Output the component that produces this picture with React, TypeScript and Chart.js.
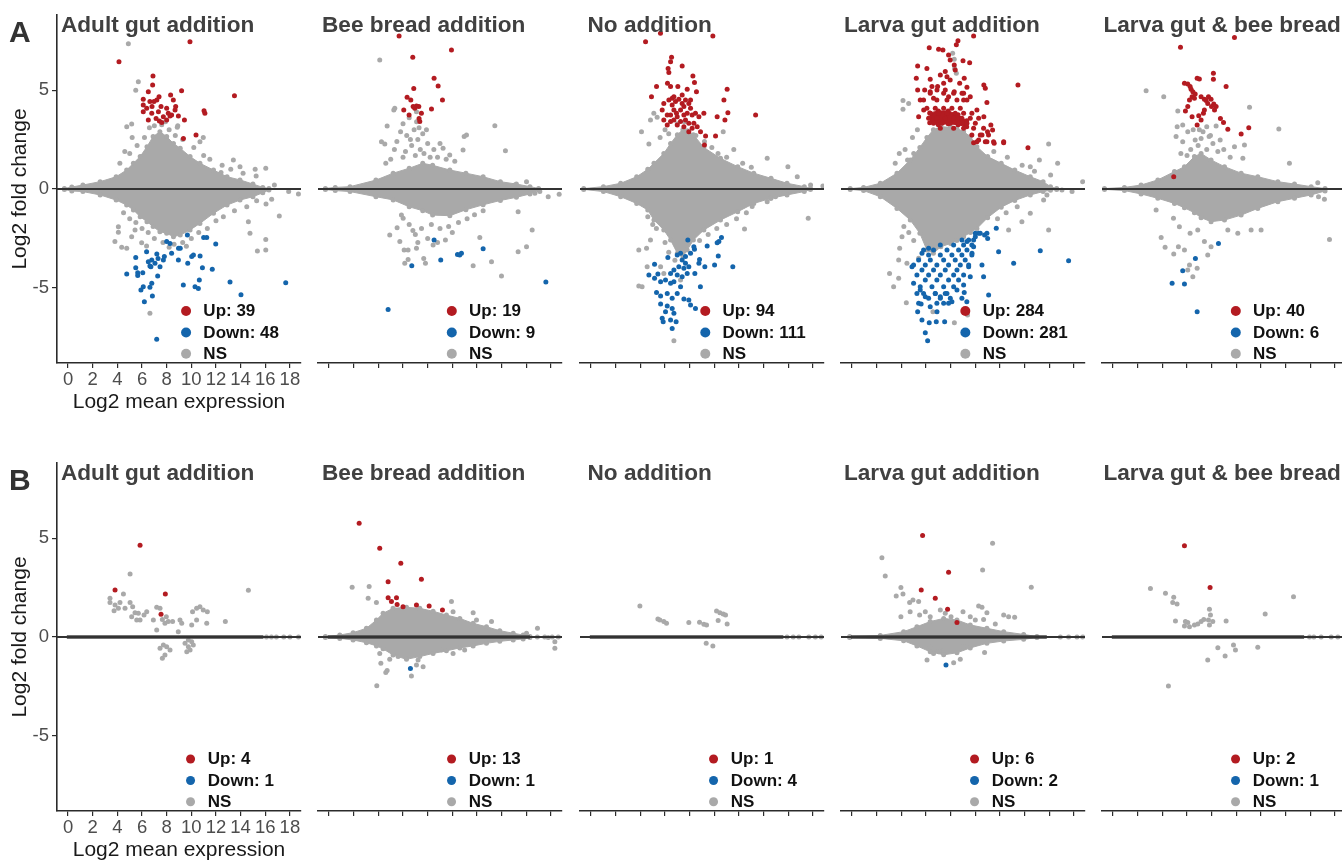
import React, { useEffect, useRef } from 'react';
import { Chart, registerables } from 'chart.js';

Chart.register(...registerables);

type P = [number, number];

// ---------- shared labels / ticks ----------
const X_TICKS = [0, 2, 4, 6, 8, 10, 12, 14, 16, 18];
const Y_TICKS = [-5, 0, 5];
const X_MIN = -0.9;
const X_MAX = 18.9;
const Y_MIN = -8.8;
const Y_MAX = 8.8;
const ROW_LABELS = ['A', 'B'];
const PANEL_TITLES = ['Adult gut addition', 'Bee bread addition', 'No addition', 'Larva gut addition', 'Larva gut & bee bread'];
const UP_COUNTS_A = [39, 19, 94, 284, 40];
const DOWN_COUNTS_A = [48, 9, 111, 281, 6];
const UP_COUNTS_B = [4, 13, 1, 6, 2];
const DOWN_COUNTS_B = [1, 1, 4, 2, 1];
const Y_TITLE = 'Log2 fold change';
const X_TITLE = 'Log2 mean expression';

// ---------- Row A, panel 1: Adult gut addition ----------
const a1Up: P[] = [[4.13,6.44],[9.89,7.45],[6.89,5.72],[6.86,5.26],[6.51,4.92],[7.38,4.67],[7.2,4.5],[8.32,4.76],[9.21,4.97],[6.1,4.54],[6.64,4.42],[6.97,4.42],[6.1,4.25],[7.54,4.17],[8.0,4.08],[8.73,4.17],[6.1,3.91],[6.51,3.49],[7.41,3.44],[7.6,3.36],[8.0,3.49],[8.27,3.69],[8.4,3.74],[8.95,3.69],[9.44,3.49],[11.1,3.83],[11.03,3.96],[10.38,2.73],[9.36,2.56],[13.5,4.72],[6.81,4.17],[7.33,3.91],[8.54,4.5],[8.13,3.83],[7.73,3.66],[6.79,3.83],[7.14,3.57],[8.68,4.0],[6.38,4.08]];
const a1Down: P[] = [[4.76,-4.3],[5.49,-3.98],[5.65,-4.23],[5.65,-4.37],[6.06,-4.23],[5.49,-3.46],[6.1,-4.94],[5.91,-5.11],[6.19,-5.7],[6.51,-3.68],[6.64,-3.9],[6.79,-3.59],[6.72,-3.93],[7.2,-3.29],[7.3,-3.51],[7.05,-3.76],[7.73,-3.59],[7.81,-3.42],[7.27,-4.4],[6.79,-4.77],[6.64,-4.97],[6.84,-5.41],[8.0,-2.66],[8.27,-2.75],[8.96,-3.0],[9.1,-3.0],[9.68,-2.33],[8.95,-3.59],[9.71,-3.76],[10.03,-3.42],[10.17,-3.34],[10.71,-3.39],[10.9,-3.98],[11.0,-2.45],[11.25,-2.45],[11.7,-4.06],[11.98,-2.78],[10.65,-4.6],[10.57,-5.03],[9.35,-4.86],[13.14,-4.7],[14.03,-5.35],[17.66,-4.74],[7.19,-7.6],[10.3,-4.94],[8.4,-3.25],[6.37,-3.17],[7.46,-3.93]];
const a1Ns: P[] = [[4.89,7.34],[5.7,5.43],[5.49,5.0],[4.76,3.15],[5.16,3.29],[8.86,3.12],[10.7,2.39],[10.97,2.61],[15.18,1.0],[16.04,1.05],[15.26,0.66],[16.74,0.2],[17.9,-0.13],[18.69,-0.25],[16.52,-0.52],[16.06,-0.76],[17.14,-1.37],[16.04,-2.55],[16.04,-3.09],[15.36,-3.14],[14.63,-1.65],[14.76,-2.24],[4.08,-1.91],[4.08,-2.19],[4.35,-2.95],[4.76,-3.0],[5.16,-2.41],[5.43,-2.07],[5.97,-2.72],[6.37,-2.88],[6.64,-6.29],[3.8,-2.66],[13.41,1.47],[13.95,1.13],[12.41,0.83],[6.6,3.1],[7.0,3.2],[7.6,3.25],[8.2,3.0],[8.7,2.7],[9.3,2.5],[6.2,2.6],[5.6,2.2],[5.0,1.8],[10.2,2.1],[11.0,1.7],[11.5,1.5],[12.5,1.2],[13.2,1.0],[14.2,0.8],[8.9,3.2],[7.9,3.4],[5.2,2.6],[4.6,1.9],[4.2,1.3],[7.0,-2.5],[7.7,-2.7],[8.6,-2.8],[9.3,-2.7],[10.0,-2.5],[10.6,-2.2],[11.3,-2.0],[12.0,-1.6],[12.6,-1.4],[13.5,-1.1],[6.5,-2.2],[6.0,-2.0],[5.5,-1.7],[5.0,-1.5],[4.5,-1.2],[9.6,-2.9],[8.2,-2.95],[14.5,-0.9],[15.3,-0.6]];
const a1CloudX = [-0.3, 0.3, 1.2, 2.6, 3.9, 4.75, 5.3, 5.85, 6.4, 6.9, 7.45, 8.0, 8.55, 9.1, 9.9, 10.7, 11.8, 12.9, 13.95, 15.0, 15.8, 16.3];
const a1CloudHi = [0.03, 0.1, 0.2, 0.37, 0.62, 0.96, 1.3, 1.64, 2.14, 2.65, 2.9, 2.65, 2.3, 2.06, 1.64, 1.3, 0.96, 0.62, 0.46, 0.25, 0.08, 0.02];
const a1CloudLo = [-0.03, -0.1, -0.13, -0.3, -0.56, -0.81, -1.06, -1.4, -1.65, -1.9, -2.16, -2.24, -2.41, -2.33, -2.07, -1.74, -1.23, -0.81, -0.56, -0.39, -0.19, -0.05];

// ---------- Row A, panel 2: Bee bread addition ----------
const a2Up: P[] = [[5.68,7.74],[9.93,7.03],[6.79,6.66],[8.52,5.6],[8.85,5.21],[6.87,5.08],[6.33,4.64],[6.63,4.5],[9.2,4.5],[7.09,4.2],[7.28,4.17],[6.95,4.08],[6.06,4.0],[8.31,4.05],[6.49,3.74],[7.49,3.83],[7.36,3.41],[7.3,3.57],[6.82,4.17]];
const a2Down: P[] = [[4.79,-6.09],[6.71,-3.88],[9.06,-3.59],[10.42,-3.31],[10.74,-3.25],[12.5,-3.02],[17.59,-4.7],[8.52,-2.58],[10.6,-3.34]];
const a2Ns: P[] = [[4.11,6.53],[13.45,3.2],[14.31,1.94],[10.96,2.65],[11.15,2.73],[4.71,3.19],[4.25,2.39],[4.52,2.28],[9.25,2.06],[9.79,1.72],[10.87,1.97],[5.25,4.0],[5.33,4.08],[7.09,3.91],[16.02,0.37],[15.07,0.2],[16.7,-0.22],[17.78,-0.39],[18.67,-0.27],[17.1,-0.13],[15.34,-1.15],[16.48,-2.07],[16.02,-2.92],[15.34,-3.17],[13.99,-4.4],[13.18,-3.68],[11.69,-3.88],[12.23,-2.45],[9.44,-2.58],[8.44,-2.83],[7.68,-3.51],[7.82,-3.76],[7.09,-3.0],[6.09,-3.09],[6.41,-3.09],[6.14,-3.76],[6.41,-3.56],[5.74,-2.66],[4.92,-2.33],[5.52,-1.96],[6.01,-1.48],[5.87,-1.32],[5.5,2.4],[5.8,2.9],[6.0,3.3],[6.3,2.7],[6.5,3.6],[6.7,2.2],[6.9,3.0],[7.1,3.4],[7.2,2.5],[7.4,2.0],[7.6,2.8],[7.7,1.8],[8.0,2.3],[8.2,1.6],[8.5,2.0],[8.8,1.6],[9.0,2.3],[6.2,1.9],[5.0,1.5],[5.3,2.0],[6.0,1.6],[7.0,1.7],[9.5,1.5],[10.2,1.4],[4.6,1.3],[7.9,3.0],[6.6,2.5],[7.3,3.1],[6.5,-1.8],[7.0,-2.3],[7.5,-2.0],[8.0,-2.5],[8.3,-1.8],[9.0,-2.0],[9.7,-1.9],[10.5,-1.7],[11.2,-1.5],[8.8,-2.7],[7.2,-2.7],[6.8,-2.1],[10.0,-2.2],[11.8,-1.3],[12.5,-1.1]];
const a2CloudX = [-0.3, 0.5, 1.7, 3.8, 5.2, 6.5, 7.6, 8.4, 9.8, 11.1, 12.5, 13.9, 15.2, 16.3, 17.0];
const a2CloudHi = [0.03, 0.08, 0.12, 0.45, 0.8, 1.05, 1.3, 1.2, 0.96, 0.8, 0.62, 0.37, 0.25, 0.12, 0.03];
const a2CloudLo = [-0.03, -0.08, -0.13, -0.39, -0.55, -0.9, -1.1, -1.32, -1.35, -1.05, -0.8, -0.58, -0.42, -0.25, -0.05];

// ---------- Row A, panel 3: No addition ----------
const a3Up: P[] = [[4.42,7.45],[5.63,7.88],[9.88,7.74],[6.53,6.66],[6.45,6.44],[7.39,6.22],[6.25,6.1],[6.31,5.89],[8.26,5.72],[5.31,5.18],[6.2,5.35],[6.45,5.18],[7.04,5.18],[7.8,5.04],[8.39,5.38],[8.55,4.92],[11.04,5.04],[4.9,4.67],[10.78,4.5],[13.35,3.74],[11.1,3.86],[10.23,3.66],[9.15,3.83],[8.75,3.66],[10.86,3.49],[5.9,4.33],[6.31,4.5],[6.58,4.59],[6.85,4.42],[7.12,4.54],[7.39,4.33],[7.66,4.5],[7.93,4.33],[8.07,4.08],[7.53,4.17],[7.26,4.0],[6.72,4.0],[6.45,3.74],[6.99,3.66],[7.53,3.74],[7.8,3.83],[8.2,3.74],[8.47,3.83],[6.18,3.74],[5.9,3.49],[6.45,3.41],[6.72,3.49],[7.26,3.41],[7.66,3.49],[7.93,3.32],[8.34,3.32],[8.61,3.15],[6.18,3.24],[6.99,3.24],[7.53,3.15],[8.2,3.07],[9.29,2.68],[10.1,2.68],[9.2,2.23],[8.88,2.9],[7.93,2.9],[6.72,4.67],[7.39,4.76],[6.58,4.25],[5.77,4.0],[6.93,3.83],[8.07,4.5]];
const a3Down: P[] = [[10.58,-2.45],[10.37,-2.66],[10.23,-2.72],[9.42,-2.88],[7.85,-2.58],[8.39,-3.05],[10.32,-3.39],[10.02,-3.84],[11.5,-3.93],[8.8,-3.56],[8.75,-3.76],[9.23,-3.93],[8.87,-4.94],[6.23,-3.47],[6.99,-3.34],[7.39,-3.59],[7.66,-3.76],[7.93,-3.93],[7.53,-4.01],[7.12,-3.93],[6.72,-4.1],[6.45,-4.27],[6.99,-4.35],[7.39,-4.44],[7.8,-4.27],[8.42,-4.27],[5.15,-3.81],[4.69,-4.35],[5.15,-4.52],[5.42,-4.3],[5.64,-4.69],[6.04,-4.6],[6.45,-4.77],[6.72,-4.69],[7.26,-4.94],[5.31,-5.24],[5.64,-5.41],[6.18,-5.28],[6.58,-5.53],[6.99,-5.28],[7.53,-5.56],[7.93,-5.62],[8.07,-5.87],[8.47,-6.04],[5.64,-5.82],[6.18,-5.92],[6.58,-6.04],[6.04,-6.21],[6.72,-6.29],[5.77,-6.54],[5.85,-6.71],[6.45,-6.63],[6.9,-6.71],[6.58,-7.05],[7.66,-3.42],[8.07,-3.25],[8.34,-2.92],[7.26,-3.25]];
const a3Ns: P[] = [[4.09,2.9],[4.69,2.28],[5.36,3.63],[5.09,3.83],[4.82,3.49],[10.72,2.9],[11.58,2.0],[14.29,1.55],[15.97,1.13],[16.73,0.62],[17.81,0.2],[18.81,0.15],[15.37,0.12],[15.64,-0.22],[14.29,-0.64],[14.56,-0.47],[14.96,-0.39],[17.62,-1.48],[13.07,-0.89],[12.45,-2.02],[3.87,-3.09],[3.87,-4.91],[4.14,-4.94],[4.55,-3.93],[4.5,-3.0],[4.82,-2.58],[6.72,-7.67],[5.64,-3.93],[5.9,-4.27],[7.26,-4.6],[5.6,2.6],[6.0,3.0],[6.3,2.8],[7.0,3.3],[7.6,3.4],[8.5,2.7],[9.2,2.4],[9.8,2.1],[10.3,1.8],[11.0,1.6],[12.3,1.3],[13.0,1.1],[8.8,-2.6],[9.5,-2.3],[10.2,-2.0],[11.0,-1.8],[11.8,-1.5],[12.6,-1.2],[5.3,-2.0],[5.0,-1.8],[4.6,-1.4],[6.0,-2.7],[6.3,-3.2],[6.8,-3.6]];
const a3CloudX = [-0.6, 1.0, 2.4, 3.7, 4.6, 5.1, 5.9, 6.45, 7.0, 7.45, 7.8, 8.3, 9.15, 10.5, 11.9, 13.2, 14.6, 15.9, 17.3, 17.8];
const a3CloudHi = [0.02, 0.12, 0.29, 0.62, 1.0, 1.3, 1.8, 2.3, 2.75, 3.0, 2.95, 2.75, 2.1, 1.55, 1.13, 0.8, 0.54, 0.29, 0.12, 0.02];
const a3CloudLo = [-0.02, -0.13, -0.39, -0.73, -1.06, -1.57, -2.07, -2.58, -3.25, -3.42, -3.09, -2.58, -2.07, -1.57, -1.15, -0.73, -0.47, -0.3, -0.13, -0.02];

// ---------- Row A, panel 4: Larva gut addition ----------
const a4Up: P[] = [[9.86,7.74],[8.59,7.5],[8.46,7.29],[6.26,7.15],[7.02,7.07],[7.37,7.03],[7.83,6.78],[7.96,6.53],[9.0,6.49],[9.54,6.39],[5.32,6.22],[6.07,6.1],[8.29,6.27],[7.56,5.94],[7.16,5.77],[7.7,5.68],[7.96,5.51],[9.1,5.6],[5.21,5.6],[6.34,5.55],[10.69,5.26],[10.81,5.09],[13.46,5.26],[9.32,5.14],[5.89,5.01],[5.32,5.01],[6.34,4.92],[6.89,5.01],[7.56,5.01],[8.29,4.92],[8.92,4.84],[9.59,4.67],[10.94,4.37],[5.53,4.5],[6.61,4.59],[7.83,4.67],[5.4,3.66],[5.81,4.0],[10.69,3.66],[11.26,3.24],[11.4,2.98],[10.99,2.9],[11.53,2.31],[12.3,2.34],[14.27,2.09],[10.27,2.48],[9.86,2.34],[10.54,2.73],[10.81,2.39],[8.37,6.02],[8.73,5.35],[6.94,5.18],[7.43,5.35],[6.48,5.18],[9.05,4.5],[10.13,4.0],
  [6.07,4.08],[6.75,4.08],[7.43,4.08],[8.1,4.08],[8.78,4.08],[6.34,3.83],[7.02,3.83],[7.7,3.83],[8.37,3.83],[9.05,3.83],[9.72,3.83],[6.21,3.58],[6.88,3.58],[7.56,3.58],[8.24,3.58],[8.91,3.58],[9.59,3.58],[10.27,3.58],[6.61,3.32],[7.29,3.32],[7.97,3.32],[8.64,3.32],[9.32,3.32],[10.0,3.32],[7.16,3.07],[8.24,3.07],[9.05,3.07],[9.86,3.07],[10.67,3.07],[9.72,2.73],[10.4,2.73],[11.07,2.73],[10.13,2.39],[10.94,2.39],[11.48,2.39],[12.3,2.39],[5.8,4.5],[6.88,4.5],[7.7,4.5],[8.51,4.5],[9.32,4.5],[6.34,4.84],[7.43,4.84],[8.24,4.84],[9.05,4.84]];
const a4UpCoreX = [6.3, 7.0, 7.8, 8.6, 9.3];
const a4UpCoreHi = [3.85, 3.95, 3.95, 3.75, 3.45];
const a4UpCoreLo = [3.35, 3.25, 3.3, 3.25, 3.15];
const a4Down: P[] = [[11.7,-1.99],[10.75,-2.33],[11.0,-2.5],[10.27,-2.24],[10.0,-2.41],[11.89,-3.17],[13.11,-3.76],[15.27,-3.12],[17.57,-3.63],[10.54,-3.84],[10.67,-4.44],[11.08,-5.36],[9.1,-5.24],[8.91,-5.53],[9.31,-5.7],[8.1,-5.7],[7.43,-5.78],[6.89,-6.21],[6.34,-5.95],[5.6,-5.82],[5.32,-6.21],[5.67,-6.63],[6.26,-6.76],[6.83,-6.71],[7.51,-6.71],[5.94,-7.27],[6.13,-7.67],[4.86,-3.93],[4.99,-4.77],[5.26,-5.28],[5.53,-5.11],[5.94,-5.45],[6.75,-5.28],[7.16,-5.45],[7.7,-5.28],[8.51,-5.11],[9.05,-4.86],[9.59,-4.44],[9.46,-3.93],[9.73,-3.25],[9.86,-2.92],[9.32,-2.66],[6.21,-3.0],[5.67,-3.25],
  [10.0,-2.24],[10.4,-2.24],[10.94,-2.24],[8.91,-2.58],[9.46,-2.58],[9.86,-2.58],[7.16,-2.83],[8.24,-2.83],[9.05,-2.83],[9.72,-2.83],[5.8,-3.09],[6.61,-3.09],[7.7,-3.09],[8.64,-3.09],[9.32,-3.09],[6.21,-3.34],[7.16,-3.34],[8.1,-3.34],[8.91,-3.34],[9.72,-3.34],[5.4,-3.59],[6.35,-3.59],[7.43,-3.59],[8.37,-3.59],[9.18,-3.59],[4.99,-3.84],[5.94,-3.84],[6.88,-3.84],[7.83,-3.84],[8.78,-3.84],[9.46,-3.84],[5.67,-4.1],[6.61,-4.1],[7.56,-4.1],[8.51,-4.1],[5.26,-4.35],[6.21,-4.35],[7.16,-4.35],[8.24,-4.35],[9.05,-4.35],[5.94,-4.6],[6.88,-4.6],[7.83,-4.6],[8.64,-4.6],[5.53,-4.94],[6.48,-4.94],[7.43,-4.94],[8.24,-4.94],[5.8,-5.28],[6.75,-5.28],[7.56,-5.28],[6.21,-5.53],[7.16,-5.53],[7.97,-5.53],[5.4,-5.78],[6.88,-5.78],[7.83,-5.78]];
const a4Ns: P[] = [[8.16,6.86],[8.29,6.56],[8.32,6.1],[8.46,5.85],[4.13,4.47],[4.13,4.03],[4.59,4.33],[3.83,1.8],[5.0,1.8],[4.5,1.47],[15.95,2.28],[16.68,1.3],[15.2,1.47],[14.46,1.13],[16.11,0.71],[15.22,-0.05],[15.81,-0.3],[15.54,-0.56],[17.03,-0.05],[17.85,-0.13],[18.71,0.37],[14.46,-1.23],[13.78,-1.65],[15.95,-2.07],[12.7,-2.07],[4.05,-2.41],[3.86,-3.0],[3.78,-3.59],[3.04,-4.27],[3.37,-4.94],[3.78,-4.52],[4.4,-5.75],[6.56,-6.21],[8.3,-6.76],[9.37,-6.37],[4.45,-3.76],[4.3,2.0],[4.9,2.6],[5.3,3.0],[3.5,1.3],[5.0,-2.6],[4.6,-2.2],[5.4,-3.5],[4.2,-1.9],[11.8,-1.5],[12.5,-1.2],[13.4,-0.9],[11.5,1.9],[12.6,1.6],[13.8,1.2],[14.8,0.9]];
const a4CloudX = [-0.15, 0.93, 2.29, 3.64, 4.72, 5.5, 6.07, 6.6, 7.2, 8.0, 8.5, 9.05, 9.6, 10.13, 11.0, 12.1, 13.2, 14.46, 15.5, 16.1, 16.6];
const a4CloudHi = [0.02, 0.08, 0.29, 0.8, 1.47, 2.1, 2.6, 3.0, 3.15, 3.12, 3.07, 2.9, 2.65, 2.14, 1.64, 1.3, 0.96, 0.62, 0.37, 0.12, 0.02];
const a4CloudLo = [-0.02, -0.08, -0.39, -0.98, -1.57, -2.24, -3.09, -3.25, -2.92, -2.75, -2.6, -2.41, -2.2, -2.0, -1.45, -0.92, -0.58, -0.3, -0.13, -0.06, -0.02];

// ---------- Row A, panel 5: Larva gut & bee bread ----------
const a5Up: P[] = [[5.47,7.17],[9.85,7.66],[5.79,5.35],[6.06,5.31],[6.25,5.18],[6.33,5.04],[6.82,5.6],[7.0,5.56],[8.14,5.85],[8.14,5.55],[9.17,5.18],[6.41,4.67],[6.6,4.59],[7.41,4.54],[7.55,4.47],[7.95,4.54],[8.17,4.3],[7.99,4.17],[8.36,4.17],[5.87,3.95],[6.95,3.71],[7.33,3.83],[6.82,3.24],[8.96,3.36],[9.31,3.02],[10.39,2.78],[11.01,3.1],[4.92,0.62],[6.47,4.92],[7.14,4.67],[7.68,4.33],[6.2,4.5],[6.66,4.81],[7.74,4.67],[6.06,4.17],[8.23,4.0],[7.14,3.49],[7.41,4.0],[6.41,3.66],[8.71,3.57]];
const a5Down: P[] = [[8.55,-2.75],[6.68,-3.51],[5.65,-4.13],[4.79,-4.77],[5.79,-4.81],[6.82,-6.21]];
const a5Ns: P[] = [[2.68,4.97],[4.11,4.67],[11.07,4.13],[13.45,3.04],[14.31,1.3],[5.25,3.95],[5.2,3.15],[5.65,3.24],[5.11,2.65],[5.65,2.39],[6.06,2.9],[6.66,2.48],[7.6,3.15],[7.79,2.65],[7.14,2.56],[8.36,3.19],[8.69,2.48],[8.98,2.0],[9.85,2.14],[10.66,2.23],[10.53,1.55],[16.61,0.32],[16.67,-0.39],[17.15,-0.52],[17.56,-2.55],[15.53,0.03],[3.49,-1.06],[3.9,-2.45],[4.22,-2.95],[4.92,-3.29],[5.3,-2.92],[5.79,-3.09],[6.2,-3.84],[6.06,-4.1],[6.82,-4.01],[6.47,-4.44],[7.41,-2.66],[7.68,-3.34],[7.95,-2.92],[6.25,-2.24],[6.87,-2.07],[5.38,-1.91],[11.2,-2.07],[12.01,-2.07],[10.12,-2.24],[9.31,-2.07],[4.9,-1.48],[6.3,2.0],[6.9,2.2],[7.3,2.9],[7.6,2.0],[8.1,2.3],[8.5,1.9],[6.0,1.7],[5.5,1.8],[7.0,3.0],[7.9,2.7],[9.5,1.6],[6.5,3.0]];
const a5CloudX = [-0.7, 0.92, 2.27, 3.63, 4.98, 5.79, 6.6, 7.14, 7.95, 9.04, 10.39, 11.74, 13.37, 14.72, 16.07, 17.2];
const a5CloudHi = [0.02, 0.08, 0.2, 0.46, 0.88, 1.13, 1.64, 1.8, 1.47, 1.13, 0.8, 0.62, 0.37, 0.25, 0.12, 0.02];
const a5CloudLo = [-0.02, -0.08, -0.25, -0.47, -0.73, -0.95, -1.2, -1.45, -1.65, -1.57, -1.32, -0.98, -0.64, -0.47, -0.3, -0.1];

// ---------- Row B, panel 1: Adult gut addition ----------
const b1Up: P[] = [[5.84,4.64],[3.81,2.38],[7.89,2.18],[7.54,1.15]];
const b1Down: P[] = [];
const b1Ns: P[] = [[5.03,3.19],[4.49,2.18],[3.4,1.96],[3.4,1.74],[3.81,1.62],[3.73,1.33],[4.21,1.74],[4.62,1.45],[5.03,1.74],[5.24,1.53],[5.43,1.23],[5.7,1.2],[5.16,1.03],[5.84,0.86],[6.16,1.11],[6.38,1.28],[5.57,0.86],[6.92,0.86],[7.19,1.5],[7.46,1.45],[7.65,0.89],[7.86,0.69],[8.13,0.78],[8.48,0.78],[7.19,0.35],[7.97,1.03],[9.08,0.86],[9.22,0.69],[8.94,0.27],[10.1,1.28],[10.43,1.45],[10.7,1.53],[10.97,1.37],[11.3,1.28],[10.43,0.86],[10.03,0.61],[11.25,0.69],[12.76,0.78],[14.63,2.36],[4.08,1.45],[7.46,-0.57],[7.73,-0.4],[8.0,-0.49],[8.27,-0.66],[7.65,-1.08],[7.86,-0.91],[9.49,-0.32],[9.76,-0.49],[9.9,-0.66],[9.63,-0.74],[10.03,-0.24],[10.16,-0.4],[9.76,-0.15]];
const b1LineDots = [16.1, 16.5, 16.9, 17.5, 18.0, 18.7];

// ---------- Row B, panel 2: Bee bread addition ----------
const b2Up: P[] = [[2.44,5.75],[4.11,4.49],[5.82,3.73],[4.79,2.8],[7.49,2.92],[4.79,1.99],[5.47,1.99],[5.52,1.65],[8.12,1.57],[9.2,1.37],[5.06,1.79],[7.09,1.62],[6.0,1.53]];
const b2Down: P[] = [[6.6,-1.59]];
const b2Ns: P[] = [[1.87,2.51],[3.25,2.55],[3.17,1.96],[3.84,1.74],[9.93,1.79],[11.69,1.23],[13.18,0.78],[16.91,0.44],[16.02,0.19],[17.78,-0.02],[18.32,-0.24],[18.32,-0.57],[3.87,-2.46],[4.2,-1.33],[4.71,-1.7],[4.6,-1.8],[6.68,-1.97],[4.11,-0.83],[4.92,-1.13],[5.6,-0.99],[7.22,-1.16],[7.63,-1.5],[7.09,-1.42],[9.12,-0.66],[10.06,-0.83],[11.0,-0.66],[11.96,0.86],[10.06,1.28]];
const b2CloudX = [-0.3, 0.87, 1.95, 3.03, 3.84, 4.38, 5.19, 6.28, 7.36, 8.44, 9.52, 10.61, 11.69, 12.77, 13.85, 14.94, 15.75, 16.3];
const b2CloudHi = [0.02, 0.1, 0.22, 0.44, 0.86, 1.2, 1.45, 1.5, 1.45, 1.3, 1.11, 0.94, 0.69, 0.52, 0.32, 0.19, 0.1, 0.02];
const b2CloudLo = [-0.02, -0.07, -0.15, -0.29, -0.45, -0.6, -0.91, -1.13, -0.99, -0.83, -0.7, -0.55, -0.45, -0.32, -0.22, -0.15, -0.1, -0.02];
const b2LineDots = [16.9, 17.5, 18.1, 18.6];

// ---------- Row B, panel 3: No addition ----------
const b3Up: P[] = [];
const b3Down: P[] = [];
const b3Ns: P[] = [[3.96,1.57],[5.42,0.91],[5.58,0.86],[5.9,0.78],[6.12,0.69],[7.93,0.73],[8.8,0.74],[9.15,0.64],[9.37,0.61],[10.31,0.83],[11.04,0.66],[10.18,1.32],[10.45,1.23],[10.72,1.16],[10.91,1.11],[9.34,-0.32],[9.88,-0.46]];
const b3LineDots = [15.9, 16.4, 16.86, 17.67, 18.2, 18.67];

// ---------- Row B, panel 4: Larva gut addition ----------
const b4Up: P[] = [[5.72,5.13],[7.83,3.27],[5.61,2.38],[6.75,1.96],[7.75,1.4],[8.51,0.73]];
const b4Down: P[] = [[7.62,-1.42]];
const b4Ns: P[] = [[2.42,4.01],[2.69,3.09],[11.4,4.74],[10.59,3.39],[14.54,2.51],[3.96,2.5],[4.13,2.18],[3.58,2.07],[4.67,1.74],[4.94,1.87],[5.4,1.79],[3.96,1.03],[4.71,1.28],[5.48,1.11],[5.94,1.28],[6.34,1.03],[7.16,1.37],[7.56,1.2],[8.03,1.03],[9.0,1.28],[9.59,1.03],[10.27,1.57],[10.54,1.5],[10.94,1.23],[10.0,0.86],[10.67,0.89],[11.62,0.66],[12.3,1.11],[12.7,1.03],[13.19,1.0],[6.08,-1.16],[6.61,-0.83],[7.02,-0.74],[8.24,-1.3],[8.78,-1.13],[10.75,-0.79],[6.34,-0.49],[7.43,-0.66],[9.05,-0.49]];
const b4CloudX = [-0.2, 2.29, 4.18, 5.26, 6.34, 7.43, 8.51, 9.59, 10.94, 12.3, 13.92, 15.0];
const b4CloudHi = [0.02, 0.08, 0.27, 0.52, 0.78, 0.94, 0.86, 0.61, 0.44, 0.27, 0.13, 0.02];
const b4CloudLo = [-0.02, -0.07, -0.19, -0.45, -0.75, -0.9, -0.8, -0.55, -0.32, -0.2, -0.12, -0.02];
const b4LineDots = [16.9, 17.57, 18.25, 18.71];

// ---------- Row B, panel 5: Larva gut & bee bread ----------
const b5Up: P[] = [[5.79,4.62],[7.87,2.5]];
const b5Down: P[] = [];
const b5Ns: P[] = [[3.03,2.45],[4.25,2.21],[4.92,2.01],[4.84,1.74],[5.19,1.67],[14.64,2.04],[12.34,1.16],[5.06,0.81],[5.87,0.78],[6.06,0.73],[5.79,0.56],[6.2,0.52],[6.6,0.61],[6.87,0.66],[7.14,0.78],[7.36,0.89],[7.82,1.4],[7.9,1.11],[7.74,0.86],[7.82,0.61],[8.09,0.78],[9.17,0.81],[8.5,-0.54],[9.09,-0.96],[7.68,-1.16],[9.77,-0.4],[9.93,-0.66],[11.74,-0.52],[4.49,-2.48]];
const b5LineDots = [15.94, 16.29, 16.88, 17.7, 18.24];

// Extent of the dense run of zero-change genes along the line in row B
const B_THICK_END = [15.85, 16.3, 15.6, 15.8, 15.5];

// ---------- styling ----------
const FONT = '"Liberation Sans", Arial, Helvetica, sans-serif';
const RED = '#B31B21';
const BLUE = '#1465AC';
const GRAY = '#A9A9A9';
const AXIS = '#2b2b2b';
const TICK_TEXT = '#4d4d4d';
const TITLE_DX = [4, 4, 7.5, 3, 1.5];
const PANEL_STEP = 261.25;
const CANVAS_W = 305;
const CANVAS_H = 420;
const ROW_TOP = [0, 448];

type Band = [number[], number[], number[]];
interface PanelCfg {
  row: number;
  col: number;
  up: P[];
  down: P[];
  ns: P[];
  cloud?: Band;
  upCore?: Band;
  lineDots?: number[];
  thickEnd?: number;
}

const PANELS: PanelCfg[] = [
  { row: 0, col: 0, up: a1Up, down: a1Down, ns: a1Ns, cloud: [a1CloudX, a1CloudHi, a1CloudLo] },
  { row: 0, col: 1, up: a2Up, down: a2Down, ns: a2Ns, cloud: [a2CloudX, a2CloudHi, a2CloudLo] },
  { row: 0, col: 2, up: a3Up, down: a3Down, ns: a3Ns, cloud: [a3CloudX, a3CloudHi, a3CloudLo] },
  { row: 0, col: 3, up: a4Up, down: a4Down, ns: a4Ns, cloud: [a4CloudX, a4CloudHi, a4CloudLo], upCore: [a4UpCoreX, a4UpCoreHi, a4UpCoreLo] },
  { row: 0, col: 4, up: a5Up, down: a5Down, ns: a5Ns, cloud: [a5CloudX, a5CloudHi, a5CloudLo] },
  { row: 1, col: 0, up: b1Up, down: b1Down, ns: b1Ns, lineDots: b1LineDots, thickEnd: B_THICK_END[0] },
  { row: 1, col: 1, up: b2Up, down: b2Down, ns: b2Ns, cloud: [b2CloudX, b2CloudHi, b2CloudLo], lineDots: b2LineDots, thickEnd: B_THICK_END[1] },
  { row: 1, col: 2, up: b3Up, down: b3Down, ns: b3Ns, lineDots: b3LineDots, thickEnd: B_THICK_END[2] },
  { row: 1, col: 3, up: b4Up, down: b4Down, ns: b4Ns, cloud: [b4CloudX, b4CloudHi, b4CloudLo], lineDots: b4LineDots, thickEnd: B_THICK_END[3] },
  { row: 1, col: 4, up: b5Up, down: b5Down, ns: b5Ns, lineDots: b5LineDots, thickEnd: B_THICK_END[4] },
];

const PT_R = 2.5;

function pointsDs(pts: P[], color: string, order: number) {
  return {
    type: 'scatter',
    data: pts.map(([x, y]) => ({ x, y })),
    backgroundColor: color,
    borderColor: color,
    pointBackgroundColor: color,
    pointBorderWidth: 0,
    pointRadius: PT_R,
    pointHoverRadius: PT_R,
    showLine: false,
    order,
  };
}

function pushBand(ds: any[], band: Band, color: string, order: number) {
  const [xs, hi, lo] = band;
  const common = {
    type: 'line',
    showLine: true,
    borderWidth: 1,
    borderColor: color,
    backgroundColor: color,
    pointBackgroundColor: color,
    pointBorderWidth: 0,
    pointRadius: PT_R,
    pointHoverRadius: PT_R,
    tension: 0,
    order,
  };
  ds.push({ ...common, data: xs.map((x, i) => ({ x, y: lo[i] })), fill: false });
  ds.push({ ...common, data: xs.map((x, i) => ({ x, y: hi[i] })), fill: '-1' });
}

function buildConfig(p: PanelCfg): any {
  const first = p.col === 0;
  const datasets: any[] = [];
  datasets.push({ type: 'line', data: [{ x: X_MIN, y: 0 }, { x: X_MAX, y: 0 }], borderColor: '#333333', borderWidth: 1.8, pointRadius: 0, fill: false, order: 0 });
  if (p.thickEnd !== undefined) {
    datasets.push({ type: 'line', data: [{ x: -0.1, y: 0 }, { x: p.thickEnd, y: 0 }], borderColor: '#444444', borderWidth: 3.6, pointRadius: 0, fill: false, order: 0.5 });
  }
  datasets.push(pointsDs(p.up, RED, 1));
  if (p.upCore) pushBand(datasets, p.upCore, RED, 1.5);
  datasets.push(pointsDs(p.down, BLUE, 2));
  datasets.push(pointsDs(p.ns, GRAY, 3));
  if (p.lineDots) datasets.push(pointsDs(p.lineDots.map((x) => [x, 0] as P), GRAY, 3.5));
  if (p.cloud) pushBand(datasets, p.cloud, GRAY, 4);

  const upCount = p.row === 0 ? UP_COUNTS_A[p.col] : UP_COUNTS_B[p.col];
  const downCount = p.row === 0 ? DOWN_COUNTS_A[p.col] : DOWN_COUNTS_B[p.col];
  const title = PANEL_TITLES[p.col];

  const decor = {
    id: 'decor',
    afterDraw(chart: any) {
      const { ctx, chartArea: ca } = chart;
      ctx.save();
      ctx.textAlign = 'left';
      ctx.textBaseline = 'alphabetic';
      ctx.fillStyle = '#404040';
      ctx.font = `bold 22.6px ${FONT}`;
      ctx.fillText(title, ca.left + TITLE_DX[p.col], 32);
      if (first) {
        ctx.fillStyle = '#333333';
        ctx.font = `bold 30px ${FONT}`;
        ctx.fillText(ROW_LABELS[p.row], 9, 41.5);
      }
      const items = [
        { c: RED, t: `Up: ${upCount}` },
        { c: BLUE, t: `Down: ${downCount}` },
        { c: GRAY, t: 'NS' },
      ];
      ctx.font = `bold 17px ${FONT}`;
      const tw = Math.max(...items.map((it) => ctx.measureText(it.t).width));
      const r = p.row === 0 ? 5 : 4.5;
      const boxW = r + 17.3 + tw;
      const cx = ca.left + 173 - boxW / 2 + r;
      const dys = [-52, -30.5, -9.3];
      ctx.textBaseline = 'middle';
      items.forEach((it, i) => {
        const cy = ca.bottom + dys[i];
        ctx.fillStyle = it.c;
        ctx.beginPath();
        ctx.arc(cx, cy, r, 0, Math.PI * 2);
        ctx.fill();
        ctx.fillStyle = '#111111';
        ctx.fillText(it.t, cx + 17.3, cy + 0.5);
      });
      ctx.restore();
    },
  };

  return {
    type: 'scatter',
    data: { datasets },
    plugins: [decor],
    options: {
      responsive: false,
      animation: false,
      events: [],
      layout: { padding: { top: 15, right: 4, bottom: 0, left: 0 } },
      plugins: { legend: { display: false }, tooltip: { enabled: false } },
      scales: {
        x: {
          type: 'linear',
          min: X_MIN,
          max: X_MAX,
          afterBuildTicks: (s: any) => { s.ticks = X_TICKS.map((v) => ({ value: v })); },
          afterFit: (s: any) => { s.height = 57; },
          ticks: { display: first, autoSkip: false, maxRotation: 0, minRotation: 0, padding: 1, color: TICK_TEXT, font: { size: 18.5, family: FONT }, callback: (v: any) => String(v) },
          grid: { display: true, drawOnChartArea: false, drawTicks: true, tickLength: 5, color: AXIS, lineWidth: 1.2 },
          border: { display: true, color: AXIS, width: 1.6 },
          title: { display: first, text: X_TITLE, color: '#1a1a1a', font: { size: 21, family: FONT }, padding: { top: 0, bottom: 5.5 } },
        },
        y: {
          type: 'linear',
          min: Y_MIN,
          max: Y_MAX,
          afterBuildTicks: (s: any) => { s.ticks = Y_TICKS.map((v) => ({ value: v })); },
          afterFit: (s: any) => { s.width = 57; },
          ticks: { display: first, padding: 3, color: TICK_TEXT, font: { size: 18.5, family: FONT }, callback: (v: any) => String(v) },
          grid: { display: first, drawOnChartArea: false, drawTicks: true, tickLength: 5, color: AXIS, lineWidth: 1.2 },
          border: { display: first, color: AXIS, width: 1.6 },
          title: { display: first, text: Y_TITLE, color: '#1a1a1a', font: { size: 21, family: FONT }, padding: { top: 7.5, bottom: 0 } },
        },
      },
    },
  };
}

function Panel({ cfg }: { cfg: PanelCfg }) {
  const ref = useRef<HTMLCanvasElement>(null);
  useEffect(() => {
    if (!ref.current) return;
    const chart = new Chart(ref.current, buildConfig(cfg));
    return () => chart.destroy();
  }, [cfg]);
  return (
    <canvas
      ref={ref}
      width={CANVAS_W}
      height={CANVAS_H}
      style={{ position: 'absolute', left: Math.round(PANEL_STEP * cfg.col), top: ROW_TOP[cfg.row], width: CANVAS_W, height: CANVAS_H }}
    />
  );
}

export default function App() {
  return (
    <div style={{ position: 'absolute', left: 0, top: 0, width: 1342, height: 860, overflow: 'hidden', background: '#ffffff' }}>
      {PANELS.map((p) => (
        <Panel key={`${p.row}-${p.col}`} cfg={p} />
      ))}
    </div>
  );
}
